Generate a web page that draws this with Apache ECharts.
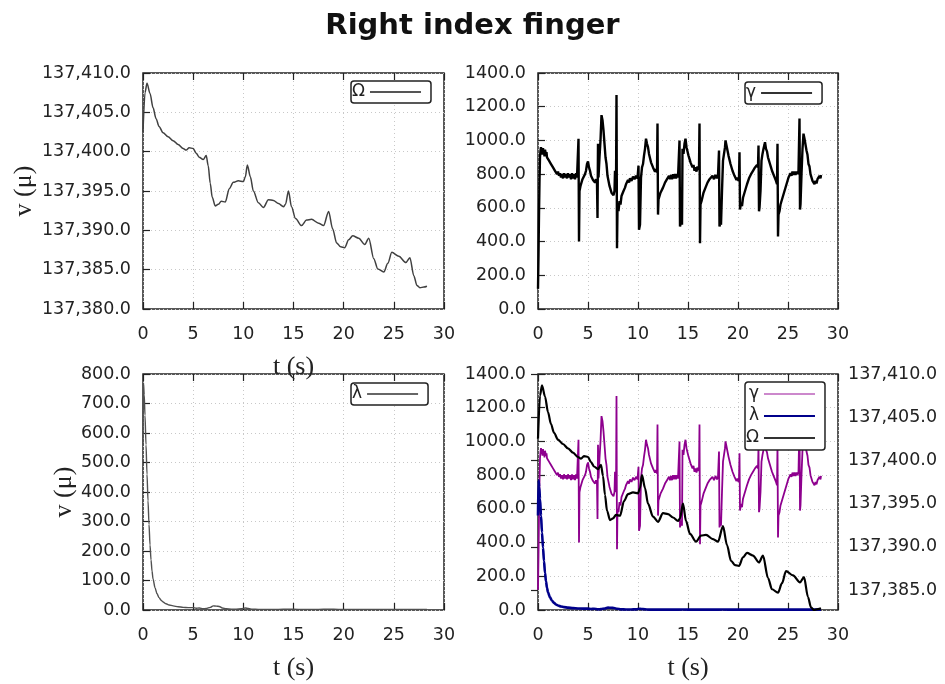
<!DOCTYPE html>
<html><head><meta charset="utf-8">
<script src="https://cdn.jsdelivr.net/npm/echarts@6/dist/echarts.min.js"></script>
<style>html,body{margin:0;padding:0;background:#fff}#c{width:945px;height:684px}</style>
</head><body><div id="c"></div>
<script>
const chartTitle = 'Right index finger';
const xLabel = 't (s)';
const yLabel = 'v (μ)';
const legendNames = ['Ω', 'γ', 'λ'];

// Ω : [t, value]
const omegaData = [[0,137402.5],[0.2,137407.5],[0.4,137408.7],[0.7,137407.4],[1.0,137405.6],[1.3,137404.2],[1.6,137403.2],[2.0,137402.4],[2.5,137401.9],[3.0,137401.4],[3.5,137400.9],[4.0,137400.4],[4.3,137400.2],[4.6,137400.5],[5.0,137400.4],[5.3,137399.8],[5.6,137399.3],[6.0,137399.0],[6.3,137399.5],[6.5,137398.2],[6.7,137396.0],[6.9,137394.2],[7.2,137393.1],[7.5,137393.3],[7.8,137393.7],[8.2,137393.6],[8.6,137395.3],[9.0,137396.1],[9.5,137396.3],[10.0,137396.2],[10.2,137396.8],[10.4,137398.3],[10.7,137396.8],[11.0,137395.0],[11.5,137393.5],[12.0,137392.9],[12.5,137393.9],[13.0,137393.8],[13.5,137393.4],[14.0,137393.0],[14.2,137393.3],[14.5,137395.0],[14.8,137393.0],[15.2,137391.5],[15.8,137390.6],[16.3,137391.3],[16.8,137391.4],[17.5,137390.9],[18.0,137390.6],[18.5,137392.4],[18.9,137390.2],[19.3,137388.4],[19.7,137387.9],[20.1,137387.8],[20.5,137388.8],[20.9,137389.3],[21.5,137389.0],[22.1,137388.2],[22.5,137389.0],[23.0,137386.4],[23.4,137385.1],[24.0,137384.7],[24.4,137385.8],[24.8,137387.2],[25.5,137386.7],[26.2,137385.9],[26.6,137386.5],[27.0,137384.2],[27.3,137383.0],[27.6,137382.7],[28.0,137382.8],[28.3,137382.9]];

// γ : [t, value]
const gammaData = [[0,120],[0.05,320],[0.1,560],[0.15,760],[0.2,900],[0.25,940],[0.3,960],[0.35,925],[0.4,950],[0.45,915],[0.5,955],[0.55,920],[0.6,940],[0.65,905],[0.7,945],[0.8,915],[0.85,930],[0.9,900],[1.0,910],[1.1,880],[1.2,885],[1.3,860],[1.4,865],[1.5,840],[1.6,845],[1.7,820],[1.8,830],[1.9,800],[2.0,815],[2.1,790],[2.2,805],[2.3,780],[2.4,800],[2.5,775],[2.6,805],[2.7,780],[2.8,800],[2.9,775],[3.0,805],[3.1,780],[3.2,800],[3.3,770],[3.4,805],[3.5,775],[3.6,800],[3.7,770],[3.8,805],[3.9,780],[4.0,790],[4.05,1010],[4.1,400],[4.15,700],[4.25,730],[4.35,720],[4.45,770],[4.55,760],[4.7,800],[4.8,820],[4.9,860],[5.0,875],[5.1,840],[5.2,820],[5.3,790],[5.4,800],[5.5,765],[5.6,775],[5.7,750],[5.8,770],[5.9,745],[5.95,540],[6.0,980],[6.05,780],[6.15,900],[6.25,1000],[6.35,1150],[6.45,1120],[6.55,1060],[6.65,980],[6.75,900],[6.85,860],[6.95,790],[7.05,780],[7.15,730],[7.25,720],[7.35,690],[7.45,700],[7.55,675],[7.65,700],[7.7,820],[7.8,700],[7.85,1270],[7.9,360],[7.95,600],[8.05,580],[8.15,640],[8.25,620],[8.35,670],[8.45,660],[8.55,700],[8.7,720],[8.8,740],[8.9,730],[9.0,765],[9.1,750],[9.2,775],[9.35,760],[9.5,785],[9.65,770],[9.8,790],[9.95,775],[10.0,780],[10.05,850],[10.1,470],[10.2,500],[10.3,780],[10.4,840],[10.5,860],[10.6,910],[10.7,950],[10.8,1010],[10.9,980],[11.0,960],[11.1,920],[11.2,910],[11.3,870],[11.4,875],[11.5,840],[11.6,845],[11.7,815],[11.8,830],[11.9,810],[11.95,1100],[12.0,560],[12.05,650],[12.15,640],[12.25,690],[12.35,680],[12.5,720],[12.6,710],[12.7,750],[12.8,745],[12.9,770],[13.0,760],[13.1,790],[13.2,770],[13.3,795],[13.4,770],[13.5,800],[13.6,775],[13.7,800],[13.8,775],[13.9,800],[14.0,780],[14.1,790],[14.15,1000],[14.2,490],[14.3,500],[14.35,530],[14.4,500],[14.45,950],[14.55,920],[14.65,980],[14.75,1010],[14.85,960],[14.95,950],[15.05,910],[15.15,910],[15.25,870],[15.35,880],[15.45,840],[15.55,855],[15.65,820],[15.75,840],[15.85,815],[15.95,845],[16.05,825],[16.1,840],[16.15,1100],[16.2,390],[16.25,620],[16.35,640],[16.45,650],[16.55,690],[16.65,680],[16.75,720],[16.85,715],[16.95,750],[17.05,745],[17.15,770],[17.3,760],[17.45,790],[17.6,770],[17.75,795],[17.9,775],[18.0,790],[18.05,780],[18.1,940],[18.15,490],[18.25,520],[18.3,500],[18.4,700],[18.5,880],[18.6,920],[18.7,960],[18.75,1000],[18.85,970],[18.95,960],[19.05,910],[19.15,910],[19.25,860],[19.35,870],[19.45,820],[19.55,825],[19.65,790],[19.75,800],[19.85,765],[19.95,780],[20.05,760],[20.1,780],[20.15,930],[20.2,590],[20.3,630],[20.4,610],[20.5,660],[20.6,650],[20.7,700],[20.8,700],[20.9,740],[21.0,735],[21.1,775],[21.2,765],[21.3,800],[21.4,790],[21.5,820],[21.6,810],[21.7,840],[21.8,830],[21.9,855],[22.0,840],[22.05,970],[22.1,580],[22.15,600],[22.25,700],[22.35,880],[22.45,920],[22.55,950],[22.65,975],[22.7,990],[22.8,950],[22.9,935],[23.0,900],[23.1,890],[23.2,860],[23.3,840],[23.4,820],[23.5,805],[23.6,790],[23.7,775],[23.8,760],[23.9,740],[23.95,980],[24.0,430],[24.05,560],[24.15,580],[24.25,620],[24.35,610],[24.45,660],[24.55,650],[24.65,700],[24.75,690],[24.85,740],[24.95,740],[25.05,780],[25.15,770],[25.25,805],[25.35,790],[25.45,815],[25.55,795],[25.65,815],[25.75,795],[25.85,815],[25.95,800],[26.05,820],[26.1,810],[26.15,1130],[26.2,590],[26.25,620],[26.35,800],[26.45,950],[26.55,1040],[26.65,1010],[26.75,1000],[26.85,940],[26.95,915],[27.05,860],[27.15,845],[27.25,800],[27.35,790],[27.45,760],[27.55,765],[27.65,740],[27.75,760],[27.85,745],[27.95,770],[28.05,760],[28.15,790],[28.25,775],[28.3,795]];

// λ : [t, value]
const lambdaData = [[0,560],[0.05,770],[0.12,730],[0.2,660],[0.3,560],[0.4,460],[0.5,370],[0.6,290],[0.7,220],[0.8,170],[0.9,132],[1.0,105],[1.2,75],[1.4,55],[1.6,42],[1.8,33],[2.0,27],[2.3,21],[2.6,17],[3.0,14],[3.5,11],[4.0,9],[4.5,8],[5.0,8],[5.3,6],[5.6,7],[6.0,4],[6.3,5],[6.7,9],[7.0,14],[7.3,13],[7.6,12],[7.9,7],[8.3,4],[8.8,3],[9.3,3],[9.8,4],[10.2,7],[10.5,5],[10.9,3],[11.5,2],[12.5,2],[13.5,2],[14.5,3],[15.5,2],[16.5,2],[17.5,2],[18.5,3],[19.5,2],[20.5,2],[21.5,2],[22.5,2],[23.5,2],[24.5,2],[25.5,2],[26.5,2],[27.5,2],[28.3,2]];

const xMin = 0, xMax = 30, xStep = 5;
const omegaMin = 137380, omegaMax = 137410, omegaStep = 5;
const gammaMin = 0, gammaMax = 1400, gammaStep = 200;
const lambdaMin = 0, lambdaMax = 800, lambdaStep = 100;
const rightMin = 137382.7, rightMax = 137410;

const SANS = 'DejaVu Sans';
const SERIF = 'Liberation Serif';
const fmtComma = v => Number(v).toLocaleString('en-US', {minimumFractionDigits: 1, maximumFractionDigits: 1});
const fmtPlain = v => Number(v).toFixed(1);

const grids = [
  {left: 143, top: 73, width: 301, height: 236},
  {left: 538, top: 73, width: 300, height: 236},
  {left: 143, top: 374, width: 301, height: 236},
  {left: 538, top: 374, width: 300, height: 236}
].map(g => Object.assign({show: true, borderColor: '#222', borderWidth: 1.5, backgroundColor: 'transparent'}, g));

const tickStyle = {show: true, inside: true, length: 7, lineStyle: {color: '#222', width: 1.2}};
const gridLine = {show: true, lineStyle: {color: '#c8c8c8', type: [1, 3], width: 1}};
const labelStyle = {fontFamily: SANS, fontSize: 17.5, color: '#222'};

const xAxes = [];
for (let i = 0; i < 4; i++) {
  xAxes.push({
    type: 'value', gridIndex: i, min: xMin, max: xMax, interval: xStep, position: 'bottom',
    axisLine: {show: false}, axisTick: tickStyle, splitLine: gridLine,
    axisLabel: Object.assign({margin: 16, formatter: v => String(v)}, labelStyle),
    name: (i === 1) ? '' : xLabel, nameLocation: 'middle', nameGap: 45,
    nameTextStyle: {fontFamily: SERIF, fontSize: 26, color: '#222'}
  });
}
for (let i = 0; i < 4; i++) {
  xAxes.push({
    type: 'value', gridIndex: i, min: xMin, max: xMax, interval: xStep, position: 'top',
    axisLine: {show: false}, axisTick: tickStyle, splitLine: {show: false}, axisLabel: {show: false}
  });
}

const yAxes = [
  {type: 'value', gridIndex: 0, min: omegaMin, max: omegaMax, interval: omegaStep,
   axisLabel: Object.assign({margin: 12, formatter: fmtComma}, labelStyle),
   name: yLabel, nameLocation: 'middle', nameGap: 106, nameTextStyle: {fontFamily: SERIF, fontSize: 26, color: '#222'}},
  {type: 'value', gridIndex: 1, min: gammaMin, max: gammaMax, interval: gammaStep,
   axisLabel: Object.assign({margin: 12, formatter: fmtPlain}, labelStyle)},
  {type: 'value', gridIndex: 2, min: lambdaMin, max: lambdaMax, interval: lambdaStep,
   axisLabel: Object.assign({margin: 12, formatter: fmtPlain}, labelStyle),
   name: yLabel, nameLocation: 'middle', nameGap: 64, nameTextStyle: {fontFamily: SERIF, fontSize: 26, color: '#222'}},
  {type: 'value', gridIndex: 3, min: gammaMin, max: gammaMax, interval: gammaStep,
   axisLabel: Object.assign({margin: 12, formatter: fmtPlain}, labelStyle)},
  {type: 'value', gridIndex: 3, position: 'right', min: rightMin, max: rightMax, splitNumber: 5,
   splitLine: {show: false},
   axisLabel: Object.assign({margin: 10, formatter: fmtComma, showMinLabel: false}, labelStyle)}
].map(a => Object.assign({axisLine: {show: false}, axisTick: tickStyle, splitLine: gridLine}, a));

function line(name, data, xi, yi, color, width, smooth) {
  return {
    name, type: 'line', data, xAxisIndex: xi, yAxisIndex: yi, showSymbol: false, symbol: 'none',
    smooth: smooth || false, smoothMonotone: 'x', animation: false, silent: true,
    itemStyle: {color}, lineStyle: {color, width, join: 'bevel'}, clip: true
  };
}

const series = [
  line('Ω1', omegaData, 0, 0, '#404040', 1.5, 0.3),
  line('γ2', gammaData, 1, 1, '#000000', 2.4),
  line('λ3', lambdaData, 2, 2, '#505050', 1.4, 0.3),
  line('γ4', gammaData, 3, 3, '#8e008e', 1.8),
  line('λ4', lambdaData, 3, 3, '#00008b', 2.6, 0.3),
  line('Ω4', omegaData, 3, 4, '#000000', 2.2, 0.3)
];

function legendBox(names, left, top, extra) {
  return Object.assign({
    data: names, left, top, orient: 'vertical', align: 'right', selectedMode: false,
    icon: 'rect', itemWidth: 51, itemHeight: 2, itemGap: 2,
    formatter: n => n[0],
    textStyle: {fontFamily: SANS, fontSize: 17, color: '#222', lineHeight: 20},
    borderColor: '#222', borderWidth: 1.5, borderRadius: 3, backgroundColor: '#fff',
    padding: [1, 10, 1, 1], z: 10
  }, extra || {});
}

const legends = [
  legendBox([{name: 'Ω1', itemStyle: {color: '#555555'}}], 351, 81),
  legendBox([{name: 'γ2', itemStyle: {color: '#333333'}}], 745, 82),
  legendBox([{name: 'λ3', itemStyle: {color: '#666666'}}], 351, 383),
  legendBox([{name: 'γ4', itemStyle: {color: '#cc88cc'}}, 'λ4', {name: 'Ω4', itemStyle: {color: '#333333'}}], 745, 382, {padding: [2, 10, 2, 1]})
];

const chart = echarts.init(document.getElementById('c'), null, {renderer: 'canvas'});
chart.setOption({
  backgroundColor: '#fff',
  animation: false,
  title: {text: chartTitle, left: 'center', top: 7,
          textStyle: {fontFamily: SANS, fontSize: 29, fontWeight: 'bold', color: '#111'}},
  legend: legends,
  grid: grids,
  xAxis: xAxes,
  yAxis: yAxes,
  series
});
</script></body></html>
